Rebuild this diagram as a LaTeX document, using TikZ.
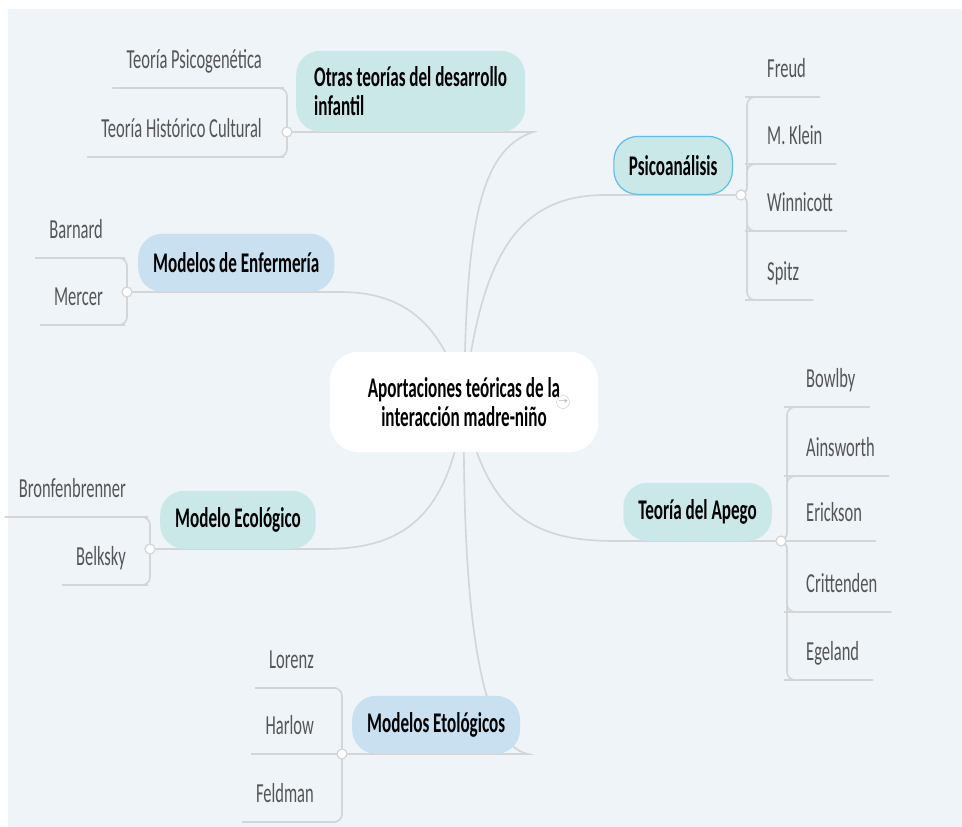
\documentclass[tikz,border=0pt]{standalone}
\usepackage{fontspec}
\setmainfont[FakeStretch=0.6]{Carlito}
\usetikzlibrary{positioning}
\definecolor{mapbg}{HTML}{EEF4F7}
\definecolor{tealbox}{HTML}{CBE8E8}
\definecolor{bluebox}{HTML}{C8E0F0}
\definecolor{branchgray}{HTML}{D3D5D7}
\definecolor{leafgray}{HTML}{555555}
\definecolor{selblue}{HTML}{62BCE3}
\pgfdeclarelayer{backdrop}
\pgfdeclarelayer{lines}
\pgfsetlayers{backdrop,lines,main}

\begin{document}
\begin{tikzpicture}[x=1pt,y=-1pt,
        topic/.style={rounded corners=24pt,inner xsep=15pt,minimum height=58pt,font=\bfseries\fontsize{28.5}{29}\selectfont},
        tealtopic/.style={topic,fill=tealbox},
        bluetopic/.style={topic,fill=bluebox},
        leaf/.style={inner xsep=14pt,inner ysep=0pt,text height=18pt,text depth=19pt,text=leafgray,font=\fontsize{27.5}{28}\selectfont},
        hubdot/.style={circle,draw=branchgray,fill=white,line width=1.2pt,inner sep=0pt,minimum size=10pt},
        branch/.style={draw=branchgray,line width=1.6pt},
        twig/.style={branch,rounded corners=8pt}]
            \useasboundingbox (0,0) rectangle (962,827);
            \begin{pgfonlayer}{backdrop}
                \fill[mapbg] (8,9) rectangle (962,827);
            \end{pgfonlayer}

            % central topic
            \node [fill=white,rounded corners=28pt,minimum width=268pt,minimum height=100pt,align=center,font=\bfseries\fontsize{28.5}{29}\selectfont] (root) at (464,402) {Aportaciones teóricas de la\\interacción madre-niño};
            \node [circle,draw=branchgray,line width=0.6pt,minimum size=13pt,inner sep=0pt,text=gray,font=\fontsize{9}{9}\selectfont] (rootarrow) at (563,402) {$\rightarrow$};

            % main topics
            \node [tealtopic,align=left,minimum height=81pt,inner xsep=18pt,anchor=south west] (otras) at (296,132) {Otras teorías del desarrollo\\infantil};
            \node [bluetopic,anchor=south west] (enfermeria) at (138,292) {Modelos de Enfermería};
            \node [tealtopic,draw=selblue,line width=1.2pt,anchor=south east] (psico) at (733,195) {Psicoanálisis};
            \node [tealtopic,anchor=south east] (apego) at (772,541) {Teoría del Apego};
            \node [tealtopic,anchor=south west] (ecologico) at (160,549) {Modelo Ecológico};
            \node [bluetopic,anchor=south west] (etologicos) at (352,754) {Modelos Etológicos};

            \node [hubdot] (hubOtras) at ([xshift=-9pt]otras.south west) {};
            \node [hubdot] (hubEnf) at ([xshift=-11pt]enfermeria.south west) {};
            \node [hubdot] (hubPsico) at ([xshift=8pt]psico.south east) {};
            \node [hubdot] (hubApego) at ([xshift=9pt]apego.south east) {};
            \node [hubdot] (hubEco) at ([xshift=-10pt]ecologico.south west) {};
            \node [hubdot] (hubEto) at ([xshift=-10pt]etologicos.south west) {};

            % leaves
            \node [leaf,anchor=south east] (psicogenetica) at (276,88) {Teoría Psicogenética};
            \node [leaf,anchor=south east] (historico) at (276,157) {Teoría Histórico Cultural};
            \node [leaf,anchor=south east] (barnard) at (117,258) {Barnard};
            \node [leaf,anchor=south east] (mercer) at (117,325) {Mercer};
            \node [leaf,anchor=south west] (freud) at (753,97) {Freud};
            \node [leaf,anchor=south west] (klein) at (753,164) {M. Klein};
            \node [leaf,anchor=south west] (winnicott) at (753,231) {Winnicott};
            \node [leaf,anchor=south west] (spitz) at (753,300) {Spitz};
            \node [leaf,anchor=south west] (bowlby) at (792,407) {Bowlby};
            \node [leaf,anchor=south west] (ainsworth) at (792,476) {Ainsworth};
            \node [leaf,anchor=south west] (erickson) at (792,541) {Erickson};
            \node [leaf,anchor=south west] (crittenden) at (792,612) {Crittenden};
            \node [leaf,anchor=south west] (egeland) at (792,680) {Egeland};
            \node [leaf,anchor=south east] (bronfenbrenner) at (140,517) {Bronfenbrenner};
            \node [leaf,anchor=south east] (belksky) at (140,585) {Belksky};
            \node [leaf,anchor=south east] (lorenz) at (328,688) {Lorenz};
            \node [leaf,anchor=south east] (harlow) at (328,754) {Harlow};
            \node [leaf,anchor=south east] (feldman) at (328,822) {Feldman};

            \begin{pgfonlayer}{lines}
                \draw [branch] (root.center) .. controls (466,230) and (478,150) .. ([xshift=8pt]otras.south east) -- (hubOtras.center);
                \draw [branch] (root.center) .. controls (445,330) and (410,292) .. ([xshift=6pt]enfermeria.south east) -- (hubEnf.center);
                \draw [branch] (root.center) .. controls (480,260) and (515,195) .. ([xshift=-8pt]psico.south west) -- (hubPsico.center);
                \draw [branch] (root.center) .. controls (485,520) and (540,541) .. ([xshift=-8pt]apego.south west) -- (hubApego.center);
                \draw [branch] (root.center) .. controls (450,520) and (400,549) .. ([xshift=8pt]ecologico.south east) -- (hubEco.center);
                \draw [branch] (root.center) .. controls (462,600) and (478,745) .. ([xshift=8pt]etologicos.south east) -- (hubEto.center);

                \draw [twig] (hubOtras.center) |- (psicogenetica.south east) -- (psicogenetica.south west);
                \draw [twig] (hubOtras.center) |- (historico.south east) -- (historico.south west);
                \draw [twig] (hubEnf.center) |- (barnard.south east) -- (barnard.south west);
                \draw [twig] (hubEnf.center) |- (mercer.south east) -- (mercer.south west);
                \draw [twig] (hubPsico.center) -- ++(6,0) |- (freud.south west) -- (freud.south east);
                \draw [twig] (hubPsico.center) -- ++(6,0) |- (klein.south west) -- (klein.south east);
                \draw [twig] (hubPsico.center) -- ++(6,0) |- (winnicott.south west) -- (winnicott.south east);
                \draw [twig] (hubPsico.center) -- ++(6,0) |- (spitz.south west) -- (spitz.south east);
                \draw [twig] (hubApego.center) -- ++(6,0) |- (bowlby.south west) -- (bowlby.south east);
                \draw [twig] (hubApego.center) -- ++(6,0) |- (ainsworth.south west) -- (ainsworth.south east);
                \draw [twig] (hubApego.center) -- (erickson.south east);
                \draw [twig] (hubApego.center) -- ++(6,0) |- (crittenden.south west) -- (crittenden.south east);
                \draw [twig] (hubApego.center) -- ++(6,0) |- (egeland.south west) -- (egeland.south east);
                \draw [twig] (hubEco.center) |- (bronfenbrenner.south east) -- (bronfenbrenner.south west);
                \draw [twig] (hubEco.center) |- (belksky.south east) -- (belksky.south west);
                \draw [twig] (hubEto.center) |- (lorenz.south east) -- (lorenz.south west);
                \draw [twig] (hubEto.center) -- (harlow.south west);
                \draw [twig] (hubEto.center) |- (feldman.south east) -- (feldman.south west);
            \end{pgfonlayer}
        \end{tikzpicture}
\end{document}
